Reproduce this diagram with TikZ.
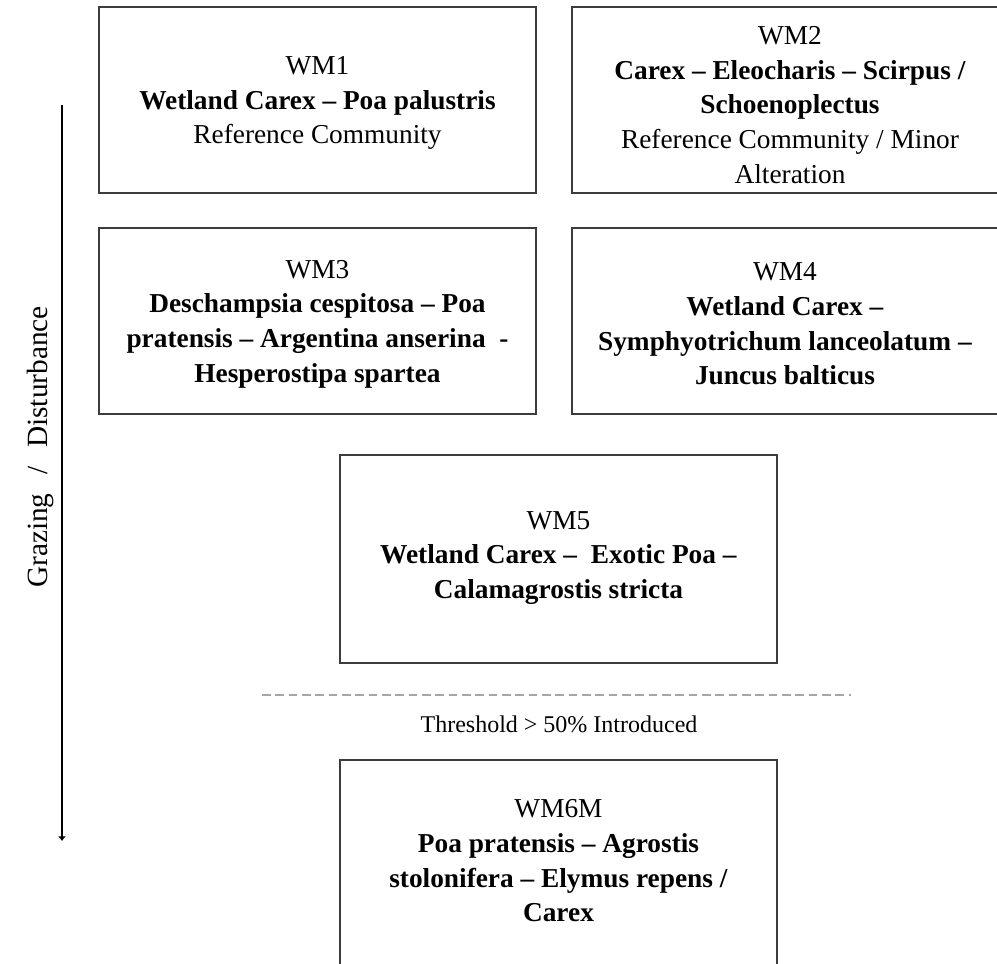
\documentclass[tikz,border=0pt]{standalone}
\usepackage{fontspec}
\setmainfont{Liberation Serif}
\usetikzlibrary{arrows.meta}
\definecolor{boxline}{HTML}{3C3C3C}
\definecolor{cutline}{HTML}{A6A6A6}
\begin{document}
\begin{tikzpicture}[x=0.75pt,y=-0.75pt,
  frame/.style={draw=boxline, line width=1.1pt, inner sep=0pt,
    minimum width=327.75pt, minimum height=139.5pt},
  label/.style={align=center, inner sep=0pt,
    font=\fontsize{20.5}{26}\selectfont},
  note/.style={inner sep=0pt, font=\fontsize{18}{22}\selectfont},
  axis/.style={line width=0.8pt, -{Latex[length=3.5pt,width=6pt]}},
  cut/.style={draw=cutline, line width=1pt, dash pattern=on 6.5pt off 3.5pt}]
\useasboundingbox (0,0) rectangle (997,964);
\clip (0,0) rectangle (997,964);

% state boxes
\node[frame] (b1) at (317.5,100) {};
\node[frame] (b2) at (790.5,100) {};
\node[frame] (b3) at (317.5,321) {};
\node[frame] (b4) at (790.5,321) {};
\node[frame, minimum height=156pt] (b5) at (558.5,559) {};
\node[frame, minimum height=172.5pt] (b6) at (558.5,875) {};

% box texts
\node[label] (t1) at (317.5,103) {WM1\\\textbf{Wetland Carex – Poa palustris}\\Reference Community};
\node[label] (t2) at (790,105) {WM2\\\textbf{Carex – Eleocharis – Scirpus /}\\\textbf{Schoenoplectus}\\Reference Community / Minor\\Alteration};
\node[label] (t3) at (317.5,324) {WM3\\\textbf{Deschampsia cespitosa – Poa}\\\textbf{pratensis – Argentina anserina\ \ -}\\\textbf{Hesperostipa spartea}};
\node[label] (t4) at (785,324) {WM4\\\textbf{Wetland Carex –}\\\textbf{Symphyotrichum lanceolatum –}\\\textbf{Juncus balticus}};
\node[label] (t5) at (558.5,558) {WM5\\\textbf{Wetland Carex –\ \ Exotic Poa –}\\\textbf{Calamagrostis stricta}};
\node[label] (t6) at (558.5,861) {WM6M\\\textbf{Poa pratensis – Agrostis}\\\textbf{stolonifera – Elymus repens /}\\\textbf{Carex}};

% threshold line
\coordinate (c1) at (262,695);
\coordinate (c2) at (851,695);
\draw[cut] (c1) -- (c2);
\node[note] (thr) at (559,724) {Threshold > 50\% Introduced};

% disturbance axis
\coordinate (a1) at (62,105);
\coordinate (a2) at (62,841);
\draw[axis] (a1) -- (a2);
\node[inner sep=0pt, font=\fontsize{22}{26}\selectfont, rotate=90] (ax) at (40,447)
  {Grazing\hspace{14pt}/\hspace{14pt}Disturbance};
\end{tikzpicture}
\end{document}
